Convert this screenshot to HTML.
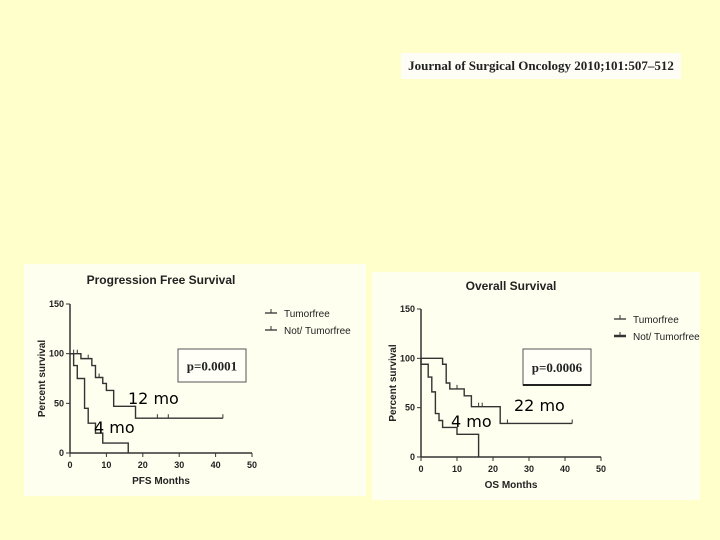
<!DOCTYPE html>
<html><head><meta charset="utf-8">
<style>
body{margin:0;width:720px;height:540px;background:#ffffcc;overflow:hidden;font-family:"Liberation Sans",sans-serif}
#jr{position:absolute;left:401px;top:53px;width:280px;height:26px;background:#fdfdf6;font-family:"Liberation Serif",serif;font-weight:bold;font-size:13px;line-height:26px;text-align:center;color:#222}
svg{position:absolute;left:0;top:0}
</style></head><body>
<div id="jr">Journal of Surgical Oncology 2010;101:507–512</div>
<svg id="s" width="720" height="540"></svg>
<script>
const pfsTumorfreeT=[0,3,6,7,9,10,12,18,42];
const pfsTumorfreeV=[100,95,88,76,70,63,47,35,35];
const pfsTumorfreeCens=[1,2,5,8,10,24,27,42];
const pfsNotT=[0,1,2,4,5,7,9,16];
const pfsNotV=[100,88,75,45,30,20,10,0];
const osTumorfreeT=[0,6,7,8,12,14,22,42];
const osTumorfreeV=[100,94,75,69,62,51,34,34];
const osTumorfreeCens=[10,16,17,24,42];
const osNotT=[0,0,2,3,4,5,6,10,16];
const osNotV=[100,94,81,66,44,37,30,23,0];
const xTicks=[0,10,20,30,40,50];
const yTicks=[0,50,100,150];
const NS='http://www.w3.org/2000/svg';
const svg=document.getElementById('s');
function mk(tag,attrs,parent,name){const e=document.createElementNS(NS,tag);for(const k in attrs)e.setAttribute(k,attrs[k]);


(parent||svg).appendChild(e);return e;}
function txt(x,y,s,size,extra,name,parent){const t=mk('text',Object.assign({x:x,y:y,'font-size':size,fill:'#222'},extra||{}),parent,name);t.textContent=s;return t;}
function panel(cfg){
 const g=mk('g',{},svg,cfg.name);
 mk('rect',{x:cfg.px,y:cfg.py,width:cfg.pw,height:cfg.ph,fill:'#fffff0'},g,'panel-background');
 const X=v=>cfg.x0+(cfg.x1-cfg.x0)*v/50, Y=v=>cfg.y0+(cfg.y1-cfg.y0)*v/150;
 txt((cfg.x0+cfg.x1)/2,cfg.titleY,cfg.title,12,{'font-weight':'bold','text-anchor':'middle'},'chart-title',g);
 mk('line',{x1:cfg.x0,y1:cfg.y0,x2:cfg.x1,y2:cfg.y0,stroke:'#333','stroke-width':1.5},g,'x-axis');
 mk('line',{x1:cfg.x0,y1:cfg.y0,x2:cfg.x0,y2:cfg.y1,stroke:'#333','stroke-width':1.5},g,'y-axis');
 xTicks.forEach(v=>{mk('line',{x1:X(v),y1:cfg.y0,x2:X(v),y2:cfg.y0+4,stroke:'#333'},g,'x-tick');
  txt(X(v),cfg.y0+15,String(v),9,{'text-anchor':'middle','font-weight':'bold'},'x-tick-label',g);});
 yTicks.forEach(v=>{mk('line',{x1:cfg.x0-4,y1:Y(v),x2:cfg.x0,y2:Y(v),stroke:'#333'},g,'y-tick');
  txt(cfg.x0-6,Y(v)+3,String(v),9,{'text-anchor':'end','font-weight':'bold'},'y-tick-label',g);});
 txt((cfg.x0+cfg.x1)/2,cfg.y0+31,cfg.xlabel,10,{'text-anchor':'middle','font-weight':'bold'},'x-axis-title',g);
 txt(0,0,'Percent survival',10,{'text-anchor':'middle','font-weight':'bold',transform:`translate(${cfg.x0-25},${(cfg.y0+cfg.y1)/2}) rotate(-90)`},'y-axis-title',g);
 function step(T,V,w,name){let d=`M${X(T[0])},${Y(V[0])}`;for(let i=1;i<T.length;i++){d+=`H${X(T[i])}V${Y(V[i])}`;}
  mk('path',{d:d,fill:'none',stroke:'#333','stroke-width':w},g,name);}
 step(cfg.aT,cfg.aV,1.4,'tumorfree-curve');
 step(cfg.bT,cfg.bV,1.4,'not-tumorfree-curve');
 cfg.cens.forEach(c=>{let v=cfg.aV[0];for(let i=0;i<cfg.aT.length;i++)if(cfg.aT[i]<=c)v=cfg.aV[i];
  mk('line',{x1:X(c),y1:Y(v),x2:X(c),y2:Y(v)-4,stroke:'#333'},g,'censor-mark');});
 // legend
 [['Tumorfree',0],['Not/ Tumorfree',1]].forEach(([s,i])=>{const ly=cfg.legY+i*17;
  mk('line',{x1:cfg.legX,y1:ly,x2:cfg.legX+12,y2:ly,stroke:'#333','stroke-width':i&&cfg.boldB?2.5:1.3},g,'legend-swatch');
  mk('line',{x1:cfg.legX+6,y1:ly,x2:cfg.legX+6,y2:ly-4,stroke:'#333'},g,'legend-swatch-tick');
  txt(cfg.legX+19,ly+4,s,10,{},'legend-entry',g);});
 mk('rect',{x:cfg.pbx,y:cfg.pby,width:cfg.pbw,height:cfg.pbh,fill:'#fffff8',stroke:'#555','stroke-width':1},g,'p-value-box');
 if(cfg.boldB)mk('line',{x1:cfg.pbx,y1:cfg.pby+cfg.pbh,x2:cfg.pbx+cfg.pbw,y2:cfg.pby+cfg.pbh,stroke:'#222','stroke-width':2},g,'p-box-shadow');
 txt(cfg.pbx+cfg.pbw/2,cfg.pby+cfg.pbh/2+5,cfg.p,13,{'text-anchor':'middle','font-family':'Liberation Serif,serif','font-weight':'bold'},'p-value',g);
 cfg.notes.forEach(n=>txt(n[0],n[1],n[2],16,{fill:'#000','font-family':'DejaVu Sans,sans-serif'},'median-annotation',g));
}
panel({name:'pfs-chart',px:24,py:264,pw:342,ph:232,x0:70,x1:252,y0:453,y1:304,titleY:284,title:'Progression Free Survival',xlabel:'PFS Months',
 aT:pfsTumorfreeT,aV:pfsTumorfreeV,bT:pfsNotT,bV:pfsNotV,cens:pfsTumorfreeCens,legX:265,legY:313,
 pbx:178,pby:349,pbw:68,pbh:33,p:'p=0.0001',notes:[[128,404,'12 mo'],[94,433,'4 mo']]});
panel({name:'os-chart',px:372,py:272,pw:328,ph:228,x0:421,x1:601,y0:457,y1:309,titleY:290,title:'Overall Survival',xlabel:'OS Months',
 aT:osTumorfreeT,aV:osTumorfreeV,bT:osNotT,bV:osNotV,cens:osTumorfreeCens,legX:614,legY:319,boldB:true,
 pbx:523,pby:349,pbw:68,pbh:36,p:'p=0.0006',notes:[[514,411,'22 mo'],[451,427,'4 mo']]});
</script>
</body></html>
